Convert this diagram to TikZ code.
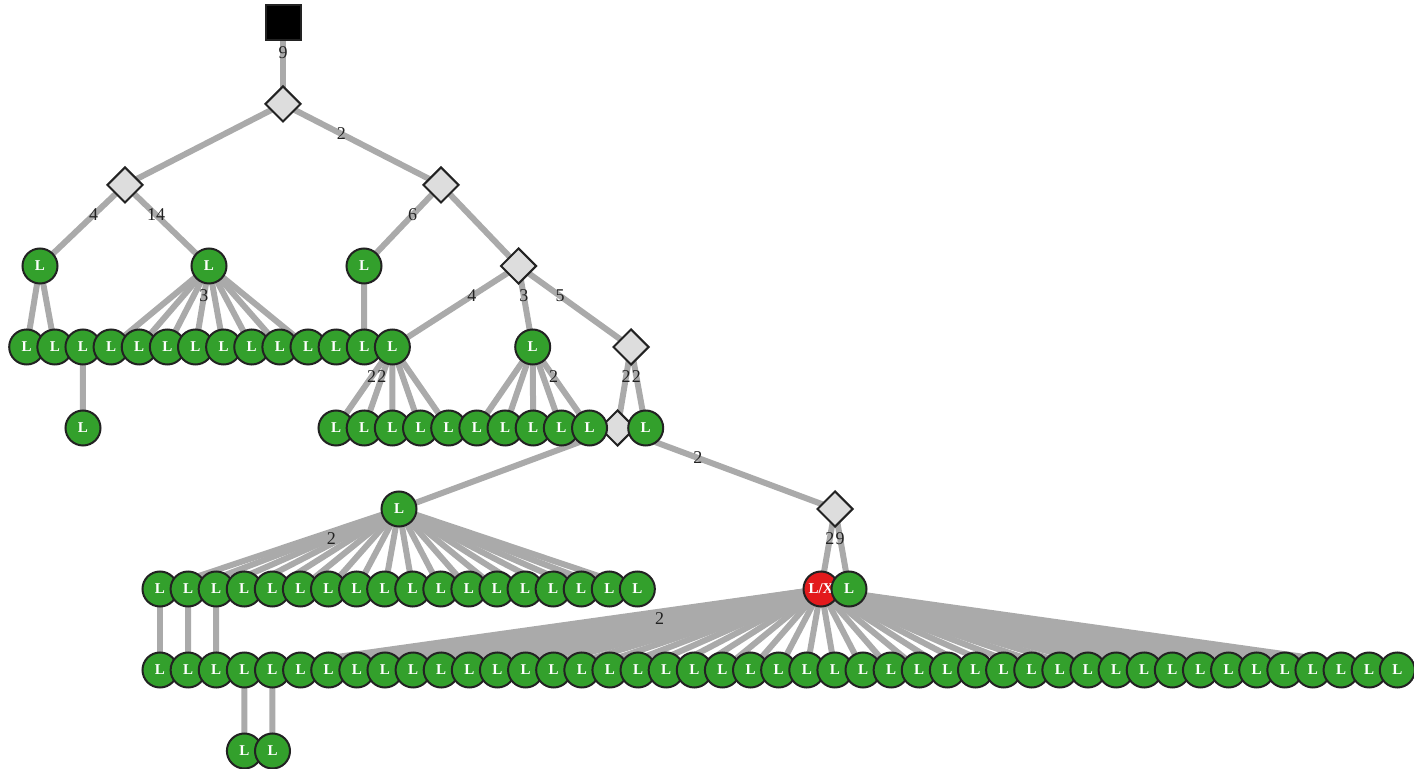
\documentclass[tikz,border=0pt]{standalone}
\usepackage{fontspec}
\setmainfont{Liberation Serif}
\usetikzlibrary{shapes.geometric,backgrounds}
\definecolor{leafgreen}{HTML}{33A02C}
\definecolor{leafred}{HTML}{E31A1C}
\definecolor{edgegray}{HTML}{AAAAAA}
\definecolor{chancegray}{HTML}{DDDDDD}
\definecolor{inkdark}{HTML}{222222}

\begin{document}
\begin{tikzpicture}[x=0.5pt,y=-0.5pt,
		leaf/.style={circle,draw=inkdark,line width=1pt,fill=leafgreen,minimum size=17.5pt,inner sep=0pt,text=white,font=\fontsize{7.5}{8}\selectfont\bfseries},
		badleaf/.style={leaf,fill=leafred},
		chance/.style={diamond,draw=inkdark,line width=1pt,fill=chancegray,minimum size=18pt,inner sep=0pt},
		start/.style={rectangle,draw=inkdark,line width=1pt,fill=black,minimum size=17.5pt,inner sep=0pt},
		link/.style={draw=edgegray,line width=3pt},
		weight/.style={pos=0.37,text=inkdark,font=\fontsize{9}{10}\selectfont,inner sep=0pt}
		]
		\useasboundingbox (0,0) rectangle (1414,769);
		\node[start] (root) at (283,23) {};
		\node[chance] (d1) at (283,104) {};
		\node[chance] (d2) at (125,185) {};
		\node[chance] (d3) at (441,185) {};
		\node[leaf] (la) at (40,266) {L};
		\node[leaf] (lb) at (209,266) {L};
		\node[leaf] (lc) at (364,266) {L};
		\node[chance] (d4) at (518.5,266) {};
		\foreach \i in {0,...,13}
			\node[leaf] (r3-\i) at ({26.7+28.13*\i},347) {L};
		\node[leaf] (m) at (532.7,347) {L};
		\node[chance] (d5) at (631,347) {};
		\node[leaf] (q) at (83,428) {L};
		\node[chance] (d6) at (617.5,428) {};
		\foreach \i in {0,...,9}
			\node[leaf] (r4-\i) at ({336+28.17*\i},428) {L};
		\node[leaf] (r4-x) at (645.7,428) {L};
		\node[leaf] (n) at (399,509) {L};
		\node[chance] (d7) at (835,509) {};
		\foreach \i in {0,...,17}
			\node[leaf] (r6-\i) at ({160+28.08*\i},589) {L};
		\node[badleaf] (lx) at (821,589) {L/X};
		\node[leaf] (ly) at (849,589) {L};
		\foreach \i in {0,...,44}
			\node[leaf] (r7-\i) at ({160+28.12*\i},670) {L};
		\node[leaf] (r8-0) at (244.4,751) {L};
		\node[leaf] (r8-1) at (272.5,751) {L};

		\begin{scope}[on background layer]
		\draw[link] (root.center) -- node[weight]{9} (d1.center);
		\draw[link] (d1.center) -- (d2.center);
		\draw[link] (d1.center) -- node[weight]{2} (d3.center);
		\draw[link] (d2.center) -- node[weight]{4} (la.center);
		\draw[link] (d2.center) -- node[weight]{14} (lb.center);
		\draw[link] (d3.center) -- node[weight]{6} (lc.center);
		\draw[link] (d3.center) -- (d4.center);
		\draw[link] (la.center) -- (r3-0.center);
		\draw[link] (la.center) -- (r3-1.center);
		\foreach \i in {3,...,10}
			\draw[link] (lb.center) -- (r3-\i.center);
		\path (lb.center) -- node[weight]{3} (r3-6.center);
		\draw[link] (lc.center) -- (r3-12.center);
		\draw[link] (d4.center) -- node[weight]{4} (r3-13.center);
		\draw[link] (d4.center) -- node[weight]{3} (m.center);
		\draw[link] (d4.center) -- node[weight]{5} (d5.center);
		\draw[link] (r3-2.center) -- (q.center);
		\foreach \i in {0,...,4}
			\draw[link] (r3-13.center) -- (r4-\i.center);
		\path (r3-13.center) -- node[weight]{2} (r4-0.center);
		\path (r3-13.center) -- node[weight]{2} (r4-1.center);
		\foreach \i in {5,...,9}
			\draw[link] (m.center) -- (r4-\i.center);
		\path (m.center) -- node[weight]{2} (r4-9.center);
		\draw[link] (d5.center) -- node[weight]{2} (d6.center);
		\draw[link] (d5.center) -- node[weight]{2} (r4-x.center);
		\draw[link] (d6.center) -- (n.center);
		\draw[link] (d6.center) -- node[weight]{2} (d7.center);
		\foreach \i in {0,...,17}
			\draw[link] (n.center) -- (r6-\i.center);
		\path (n.center) -- node[weight]{2} (r6-2.center);
		\draw[link] (d7.center) -- node[weight]{2} (lx.center);
		\draw[link] (d7.center) -- node[weight]{9} (ly.center);
		\foreach \i in {0,...,2}
			\draw[link] (r6-\i.center) -- (r7-\i.center);
		\foreach \i in {3,...,44}
			\draw[link] (lx.center) -- (r7-\i.center);
		\path (lx.center) -- node[weight]{2} (r7-8.center);
		\draw[link] (r7-3.center) -- (r8-0.center);
		\draw[link] (r7-4.center) -- (r8-1.center);
		\end{scope}
		\end{tikzpicture}
\end{document}
